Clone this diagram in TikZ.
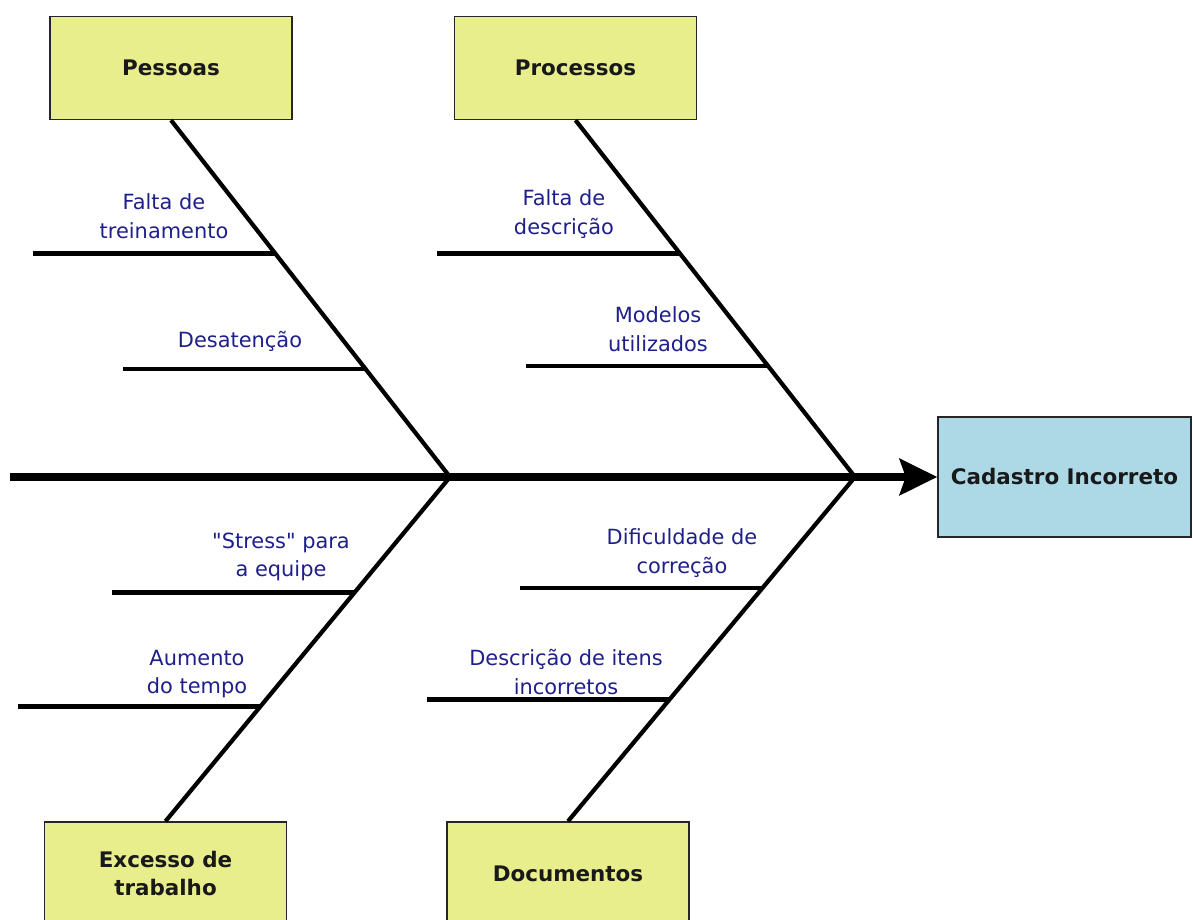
\documentclass[tikz,border=0pt]{standalone}
\usepackage{fontspec}
\setmainfont{DejaVu Sans}[Ligatures=TeXOff]
\usetikzlibrary{positioning,arrows.meta,calc}
\definecolor{fishY}{HTML}{E9EE8D}
\definecolor{fishB}{HTML}{ADD8E6}
\definecolor{fishT}{HTML}{1F1F8C}

\begin{document}
\begin{tikzpicture}[
  every node/.style={font=\fontsize{11.9}{16.2}\selectfont},
  cat/.style={rectangle, draw=black!85, line width=0.8pt, fill=fishY,
              minimum width=4.84cm, minimum height=2.06cm, align=center,
              font=\fontsize{12.2}{16}\selectfont\bfseries, text=black!90},
  eff/.style={cat, fill=fishB, minimum width=5.06cm, minimum height=2.4cm},
  cause/.style={align=center, text=fishT, inner sep=1pt},
  bone/.style={line width=2.4pt, black},
  sub/.style={line width=2.6pt, black},
  spine/.style={line width=4.5pt, black, -{Stealth[length=7.5mm,width=7.2mm,inset=1.2mm]}}
]
  \useasboundingbox (0,0) rectangle (23.86,18.4);
  \clip (0,0) rectangle (23.86,18.4);
  % categories and effect
  \node[cat] (pessoas) at (3.42,17.04) {Pessoas};
  \node[cat] (processos) at (11.51,17.04) {Processos};
  \node[cat] (excesso) at (3.31,0.93) {Excesso de\\trabalho};
  \node[cat] (documentos) at (11.36,0.93) {Documentos};
  \node[eff] (cad) at (21.29,8.86) {Cadastro Incorreto};
  % spine
  \coordinate (spL) at (0.2,8.86);
  \coordinate (j1) at (9.0,8.86);
  \coordinate (j2) at (17.1,8.86);
  \draw[spine] (spL) -- (cad.west);
  % main bones
  \draw[bone] (pessoas.south) -- (j1);
  \draw[bone] (processos.south) -- (j2);
  \draw[bone] (excesso.north) -- (j1);
  \draw[bone] (documentos.north) -- (j2);
  % sub-bones on the bones
  \coordinate (p1) at ($(pessoas.south)!0.373!(j1)$);
  \coordinate (p2) at ($(pessoas.south)!0.697!(j1)$);
  \coordinate (r1) at ($(processos.south)!0.373!(j2)$);
  \coordinate (r2) at ($(processos.south)!0.689!(j2)$);
  \coordinate (e1) at ($(j1)!0.336!(excesso.north)$);
  \coordinate (e2) at ($(j1)!0.667!(excesso.north)$);
  \coordinate (d1) at ($(j2)!0.322!(documentos.north)$);
  \coordinate (d2) at ($(j2)!0.646!(documentos.north)$);
  \coordinate (p1l) at ($(p1)+(-4.85,0)$);
  \coordinate (p2l) at ($(p2)+(-4.85,0)$);
  \coordinate (r1l) at ($(r1)+(-4.85,0)$);
  \coordinate (r2l) at ($(r2)+(-4.85,0)$);
  \coordinate (e1l) at ($(e1)+(-4.85,0)$);
  \coordinate (e2l) at ($(e2)+(-4.85,0)$);
  \coordinate (d1l) at ($(d1)+(-4.85,0)$);
  \coordinate (d2l) at ($(d2)+(-4.85,0)$);
  \draw[sub] (p1l) -- (p1);
  \draw[sub] (p2l) -- (p2);
  \draw[sub] (r1l) -- (r1);
  \draw[sub] (r2l) -- (r2);
  \draw[sub] (e1l) -- (e1);
  \draw[sub] (e2l) -- (e2);
  \draw[sub] (d1l) -- (d1);
  \draw[sub] (d2l) -- (d2);
  % causes
  \node[cause] (tp1) at (3.28,14.08) {Falta de\\treinamento};
  \node[cause] (tp2) at (4.8,11.58) {Desatenção};
  \node[cause] (tr1) at (11.28,14.12) {Falta de\\descrição};
  \node[cause] (tr2) at (13.16,11.82) {Modelos\\utilizados};
  \node[cause] (te1) at (5.62,7.26) {"Stress" para\\a equipe};
  \node[cause] (te2) at (3.94,4.92) {Aumento\\do tempo};
  \node[cause] (td1) at (13.64,7.34) {Dificuldade de\\correção};
  \node[cause] (td2) at (11.32,4.96) {Descrição de itens\\incorretos};
\end{tikzpicture}
\end{document}
